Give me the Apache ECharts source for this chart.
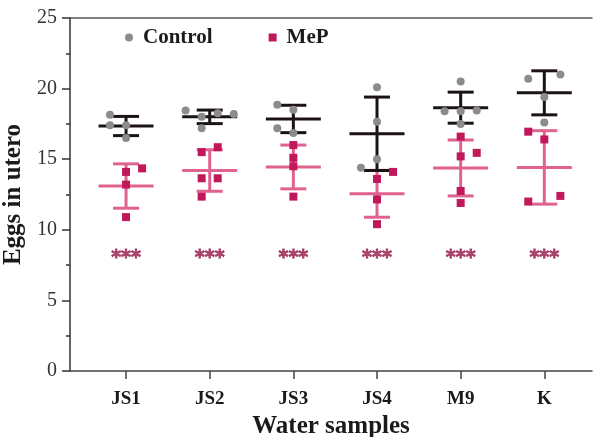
<!DOCTYPE html>
<html>
<head>
<meta charset="utf-8">
<script src="https://cdn.jsdelivr.net/npm/echarts@6/dist/echarts.min.js"></script>
<style>
  html, body { margin: 0; padding: 0; background: #ffffff; }
  #chart { width: 596px; height: 437px; }
</style>
</head>
<body>
<div id="chart"></div>
<script>
// Water samples on the x axis
const categories = ['JS1', 'JS2', 'JS3', 'JS4', 'M9', 'K'];

// Individual worms: eggs in utero, one list per water sample
const controlPoints = [
  [18.15, 17.4, 17.4, 16.5],
  [18.45, 18.0, 18.25, 18.2, 17.2],
  [18.85, 18.5, 17.2, 16.85],
  [20.1, 17.65, 15.0, 14.4],
  [20.5, 18.4, 18.4, 18.45, 17.5],
  [20.7, 21.0, 19.4, 17.6]
];
const mepPoints = [
  [14.1, 14.35, 13.2, 10.9],
  [15.5, 15.85, 13.65, 13.65, 12.35],
  [16.0, 15.1, 14.5, 12.35],
  [14.1, 13.6, 12.15, 10.4],
  [16.6, 15.45, 15.2, 12.75, 11.9],
  [16.95, 16.4, 12.0, 12.4]
];

// Column slot of each point inside its group (scatter spread)
const controlSlots = [
  [-2, -2, 0, 0],
  [-3, -1, 1, 3, -1],
  [-2, 0, -2, 0],
  [0, 0, 0, -2],
  [0, -2, 0, 2, 0],
  [-2, 2, 0, 0]
];
const mepSlots = [
  [0, 2, 0, 0],
  [-1, 1, -1, 1, -1],
  [0, 0, 0, 0],
  [2, 0, 0, 0],
  [0, 2, 0, 0, 0],
  [-2, 0, -2, 2]
];

// Group mean and standard deviation
const controlMean = [17.35, 18.0, 17.85, 16.8, 18.65, 19.7];
const controlSD   = [0.68, 0.48, 0.97, 2.6, 1.1, 1.56];
const mepMean     = [13.1, 14.2, 14.45, 12.55, 14.38, 14.42];
const mepSD       = [1.57, 1.47, 1.55, 1.66, 1.98, 2.6];

// Significance marks and their height on the value axis
const sigLabels = ['***', '***', '***', '***', '***', '***'];
const sigLevel = 8.0;

const yTicks = { min: 0, max: 25, interval: 5 };

const FONT = '"Liberation Serif", "Times New Roman", serif';
const SLOT_STEP = 0.096;   // category units per scatter slot
const CAP_HALF = 13;       // px
const MEAN_HALF = 27.5;    // px

function pointsFor(values, slots) {
  const out = [];
  values.forEach((grp, i) => {
    grp.forEach((v, j) => out.push([i + slots[i][j] * SLOT_STEP, v]));
  });
  return out;
}

function errorData(means, sds) {
  return means.map((m, i) => [i, m, sds[i]]);
}

function errorBarRenderer(color) {
  return function (params, api) {
    const i = api.value(0), m = api.value(1), s = api.value(2);
    const c = api.coord([i, m]);
    const hi = api.coord([i, m + s]);
    const lo = api.coord([i, m - s]);
    const style = { stroke: color, lineWidth: 3, fill: null };
    return {
      type: 'group',
      children: [
        { type: 'line', shape: { x1: c[0], y1: hi[1], x2: c[0], y2: lo[1] }, style: style },
        { type: 'line', shape: { x1: c[0] - CAP_HALF, y1: hi[1], x2: c[0] + CAP_HALF, y2: hi[1] }, style: style },
        { type: 'line', shape: { x1: c[0] - CAP_HALF, y1: lo[1], x2: c[0] + CAP_HALF, y2: lo[1] }, style: style },
        { type: 'line', shape: { x1: c[0] - MEAN_HALF, y1: c[1], x2: c[0] + MEAN_HALF, y2: c[1] }, style: style }
      ]
    };
  };
}

const catIdx = categories.map((_, i) => i);

const chart = echarts.init(document.getElementById('chart'), null, { renderer: 'canvas' });

chart.setOption({
  backgroundColor: '#ffffff',
  animation: false,
  legend: {
    data: ['Control', 'MeP'],
    left: 120,
    top: 22,
    itemWidth: 8,
    itemHeight: 8,
    itemGap: 56,
    textStyle: { fontFamily: FONT, fontWeight: 'bold', fontSize: 21, color: '#1a1a1a', padding: [0, 0, 0, 5] }
  },
  grid: { left: 70, top: 18, width: 522, height: 353, containLabel: false, outerBoundsMode: 'none' },
  xAxis: [
    {
      type: 'value',
      min: -0.67,
      max: 5.57,
      splitLine: { show: false },
      axisLine: { show: true, onZero: false, lineStyle: { color: '#444', width: 1.5 } },
      axisTick: { show: true, customValues: catIdx, length: 8, lineStyle: { color: '#444', width: 1.5 } },
      axisLabel: {
        customValues: catIdx,
        formatter: v => categories[Math.round(v)],
        margin: 19,
        fontFamily: FONT, fontWeight: 'bold', fontSize: 19, color: '#1a1a1a'
      },
      name: 'Water samples',
      nameLocation: 'middle',
      nameGap: 43,
      nameTextStyle: { fontFamily: FONT, fontWeight: 'bold', fontSize: 25, color: '#1a1a1a' }
    },
    {
      type: 'value',
      position: 'top',
      min: -0.67,
      max: 5.57,
      splitLine: { show: false },
      axisLine: { show: true, onZero: false, lineStyle: { color: '#555', width: 1.5 } },
      axisTick: { show: false },
      axisLabel: { show: false }
    }
  ],
  yAxis: {
    type: 'value',
    min: yTicks.min,
    max: yTicks.max,
    interval: yTicks.interval,
    splitLine: { show: false },
    axisLine: { show: true, onZero: false, lineStyle: { color: '#333', width: 1.5 } },
    axisTick: { show: true, length: 8, lineStyle: { color: '#333', width: 1.5 } },
    minorTick: { show: true, splitNumber: 2, length: 4, lineStyle: { color: '#333', width: 1.5 } },
    axisLabel: { margin: 13, fontFamily: FONT, fontSize: 20, color: '#333' },
    name: 'Eggs in utero',
    nameLocation: 'middle',
    nameGap: 42,
    nameTextStyle: { fontFamily: FONT, fontWeight: 'bold', fontSize: 25, color: '#1a1a1a' }
  },
  series: [
    {
      name: 'MeP SD',
      type: 'custom',
      renderItem: errorBarRenderer('#e0628f'),
      data: errorData(mepMean, mepSD),
      z: 2
    },
    {
      name: 'Control SD',
      type: 'custom',
      renderItem: errorBarRenderer('#1c1414'),
      data: errorData(controlMean, controlSD),
      z: 3
    },
    {
      name: 'Control',
      type: 'scatter',
      symbol: 'circle',
      symbolSize: 8,
      itemStyle: { color: '#8c8c8c', opacity: 1 },
      data: pointsFor(controlPoints, controlSlots),
      z: 4
    },
    {
      name: 'MeP',
      type: 'scatter',
      symbol: 'rect',
      symbolSize: 8,
      itemStyle: { color: '#c0185b', opacity: 1 },
      data: pointsFor(mepPoints, mepSlots),
      z: 5
    },
    {
      name: 'sig',
      type: 'scatter',
      symbolSize: 0,
      silent: true,
      data: catIdx.map(i => [i, sigLevel]),
      label: {
        show: true,
        position: 'inside',
        formatter: p => sigLabels[p.dataIndex],
        fontFamily: '"DejaVu Sans", sans-serif', fontWeight: 'bold', fontSize: 19,
        color: '#98204f', textBorderColor: '#98204f', textBorderWidth: 0.8
      },
      z: 6
    }
  ]
});
</script>
</body>
</html>
